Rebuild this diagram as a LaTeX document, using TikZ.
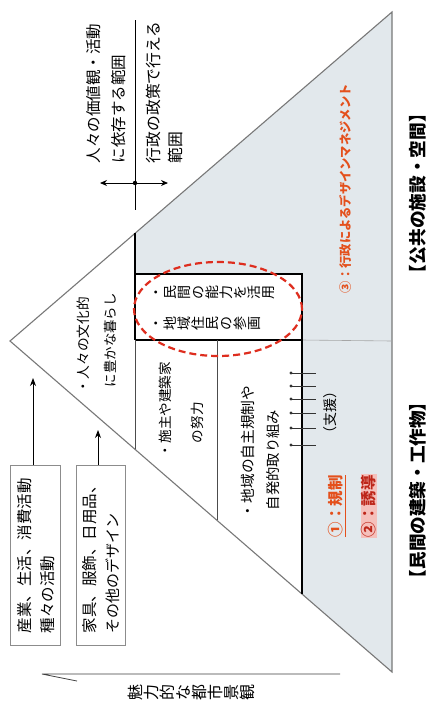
\documentclass[tikz,border=0pt]{standalone}
\usepackage{fontspec}
\setmainfont{Noto Sans CJK JP}
\usepackage{graphicx}
\usetikzlibrary{arrows.meta,shapes.geometric}
\definecolor{shadecol}{RGB}{226,232,236}
\definecolor{edgecol}{RGB}{120,120,120}
\definecolor{redd}{RGB}{222,45,30}
\definecolor{orng}{RGB}{228,80,28}
\newcommand\fs[1]{\fontsize{#1}{#1}\selectfont}
\newcommand\tatech[1]{\hbox to 1em{\hss#1\hss}}
\newcommand\tatestack[1]{\vbox{\baselineskip=1em\lineskiplimit=-100pt\lineskip=0pt #1}}
\begin{document}
\begin{tikzpicture}[x=1pt,y=-1pt,
  every node/.style={inner sep=0pt,outer sep=0pt},
  rt/.style={rotate=90,anchor=west},
  tate/.style={rotate=90,anchor=north},
  thickblk/.style={line width=1.6pt,black},
  thinln/.style={line width=0.7pt,black!70},
  arr/.style={line width=0.9pt,-{Stealth[length=8pt,width=6pt]}},
  lbox/.style={draw=black!45,line width=0.8pt}]
\useasboundingbox (0,0) rectangle (436,702);
\fill[white] (0,0) rectangle (436,702);
% triangle
\coordinate (A) at (10,341);
\coordinate (T) at (392,12);
\coordinate (B) at (392,672);
\coordinate (g1) at (135,233.3);
\coordinate (g2) at (135,274);
\coordinate (g3) at (302,274);
\coordinate (g4) at (302,594);
\coordinate (g5) at (135,340);
\coordinate (g6) at (302,340);
\coordinate (g7) at (135,449.3);
\coordinate (g8) at (217,340);
\coordinate (g9) at (217,520.4);
\coordinate (g10) at (392,341);
\fill[shadecol] (g1) -- (T) -- (B) -- (g4) -- (g3) -- (g2) -- cycle;
\draw[edgecol,line width=1.1pt] (A) -- (T) -- (B) -- cycle;
\draw[black!35,line width=0.6pt] (g6) -- (g10);
\draw[thickblk] (g1) -- (g5);
\draw[thickblk] (g2) -- (g3) -- (g4);
\draw[thickblk] (g5) -- (g6);
\draw[thinln] (g5) -- (g7);
\draw[thinln] (g8) -- (g9);
% support ticks
\foreach \yy in {373,386,399,413,428,445}{
  \coordinate (s0) at (291,\yy);
  \coordinate (s1) at (316,\yy);
  \draw[black!80,line width=0.6pt] (s0) -- (s1);
  \fill[black!80] (s0) circle (1.6);
}
% ellipse
\node (ell) [draw=redd,dash pattern=on 7pt off 4pt,line width=2.2pt,ellipse,minimum width=168,minimum height=94] at (218,309) {};
% top divider and double arrow
\coordinate (v0) at (135,20);
\coordinate (v1) at (135,210);
\coordinate (d0) at (100,183);
\coordinate (d1) at (168,183);
\coordinate (dc) at (135,183);
\draw[black,line width=0.9pt] (v0) -- (v1);
\draw[line width=0.9pt,{Stealth[length=7pt,width=6pt]}-{Stealth[length=7pt,width=6pt]}] (d0) -- (d1);
\fill (dc) circle (2.2);
\node[rt,font=\fs{15.5}] (t1) at (94,163) {人々の価値観・活動};
\node[rt,font=\fs{15.5}] (t2) at (119,163) {に依存する範囲};
\node[rt,font=\fs{15.8}] (t3) at (153,163) {行政の政策で行える};
\node[rt,font=\fs{15.8}] (t4) at (175,163) {範囲};
% left boxes
\node (b1) [lbox,minimum width=50,minimum height=180] at (35,555) {};
\node (b2) [lbox,minimum width=49,minimum height=180] at (100.5,555) {};
\coordinate (a1) at (33,378);
\coordinate (a2) at (98,430);
\draw[arr] ([xshift=-2pt]b1.north) -- (a1);
\draw[arr] ([xshift=-2.5pt]b2.north) -- (a2);
\node[rt,font=\fs{15.5}] (t11) at (25,633) {産業、生活、消費活動};
\node[rt,font=\fs{15.5}] (t12) at (48,633) {種々の活動};
\node[rt,font=\fs{15.5}] (t13) at (90,633) {家具、服飾、日用品、};
\node[rt,font=\fs{15}] (t14) at (113,633) {その他のデザイン};
% inner texts
\node[rt,font=\fs{13.7}] (t5) at (83,393) {・人々の文化的};
\node[rt,font=\fs{13.4}] (t6) at (110,387) {に豊かな暮らし};
\node[rt,font=\fs{13.6}] (t7) at (165,457) {・施主や建築家};
\node[rt,font=\fs{13.6}] (t8) at (197,443) {の努力};
\node[rt,font=\fs{14.7}] (t9) at (248,518) {・地域の自主規制や};
\node[rt,font=\fs{14.3}] (t10) at (273,510) {自発的取り組み};
\node[tate,font=\fs{14}] (t21) at (155,292) {\tatestack{\tatech{・}\tatech{民}\tatech{間}\tatech{の}\tatech{能}\tatech{力}\tatech{を}\tatech{活}\tatech{用}}};
\node[tate,font=\fs{14}] (t22) at (155,323) {\tatestack{\tatech{・}\tatech{地}\tatech{域}\tatech{住}\tatech{民}\tatech{の}\tatech{参}\tatech{画}}};
\node[rt,font=\fs{14}] (t18) at (330,440) {（支援）};
\node[rt,font=\bfseries\fs{12.3},text=orng] (t15) at (345,293) {③：行政によるデザインマネジメント};
\node[rt,font=\bfseries\fs{15.5},text=orng] (t16) at (337,537) {\underline{①：規制}};
\node[rt,font=\bfseries\fs{15.5},text=redd!85!black,fill=redd!30,inner sep=1pt] (t17) at (369,538) {②：誘導};
\node[rt,font=\bfseries\fs{17.7}] (t19) at (418,282) {【公共の施設・空間】};
\node[rt,font=\bfseries\fs{17.6}] (t20) at (418,587) {【民間の建築・工作物】};
% bottom arrow
\coordinate (h1) at (340,674);
\coordinate (h0) at (42,674);
\coordinate (h2) at (77,681);
\draw[black!75,line width=0.8pt] (h1) -- (h0) -- (h2);
\node[tate,font=\fs{16}] (t23) at (128,692) {\tatestack{\tatech{魅}\tatech{力}\tatech{的}\tatech{な}\tatech{都}\tatech{市}\tatech{景}\tatech{観}}};
\end{tikzpicture}
\end{document}
